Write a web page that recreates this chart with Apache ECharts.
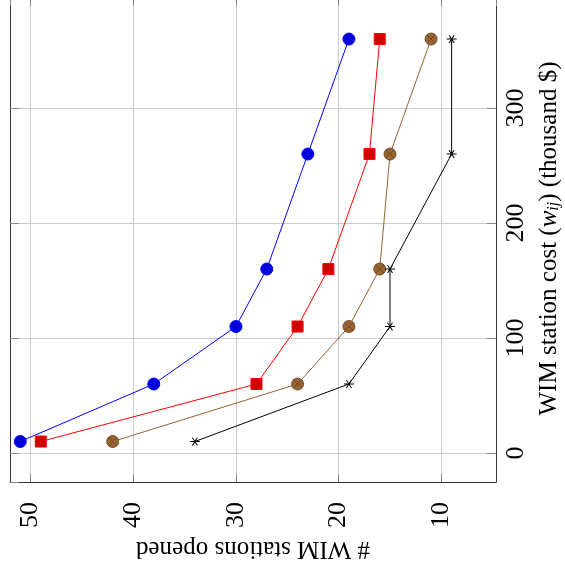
<!DOCTYPE html>
<html>
<head>
<meta charset="utf-8">
<script src="https://cdn.jsdelivr.net/npm/echarts@6/dist/echarts.min.js"></script>
<style>
  html, body { margin: 0; padding: 0; background: #fff; }
  #echart-box { width: 565px; height: 580px; }
</style>
</head>
<body>
<div id="echart-box"></div>
<script>
// station cost (thousand $) for each run
var costs = [10, 60, 110, 160, 260, 360];
// # WIM stations opened, one list per curve
var blueCounts = [51, 38, 30, 27, 23, 19];
var redCounts = [49, 28, 24, 21, 17, 16];
var brownCounts = [42, 24, 19, 16, 15, 11];
var blackCounts = [34, 19, 15, 15, 9, 9];

var serif = '"Liberation Serif", "DejaVu Serif", serif';

function pairs(counts) {
  var out = [];
  for (var i = 0; i < counts.length; i++) {
    out.push([counts[i], costs[i]]);
  }
  return out;
}

// otimes* and star marks, as in pgfplots
var otimesPath = 'path://M1,0A1,1,0,1,1,-1,0A1,1,0,1,1,1,0ZM-0.7,-0.7L0.7,0.7M-0.7,0.7L0.7,-0.7';
var starPath = 'path://M-1,0L1,0M-0.5,-0.866L0.5,0.866M-0.5,0.866L0.5,-0.866';

function init() {
  const element = document.getElementById("echart-box");
  const instance = echarts.init(element);

  var xMin = 4.68, xMax = 52.0;
  var yMin = -25.2, yMax = 398.3;

  var option = {
    animation: false,
    textStyle: { fontFamily: serif },
    grid: { left: 10, right: 69, top: -5, bottom: 98, containLabel: false, outerBoundsMode: 'none' },
    xAxis: [
      {
        type: 'value',
        position: 'bottom',
        inverse: true,
        min: xMin,
        max: xMax,
        splitNumber: 5,
        name: '# WIM stations opened',
        nameLocation: 'middle',
        nameRotate: 180,
        nameGap: 52,
        nameTextStyle: { fontFamily: serif, fontSize: 25, color: '#000' },
        axisLine: { onZero: false, lineStyle: { color: '#333', width: 1 } },
        axisTick: { inside: true, length: 8, lineStyle: { color: '#888' } },
        axisLabel: {
          rotate: 90, margin: 20, fontFamily: serif, fontSize: 26, color: '#000',
          showMinLabel: false, showMaxLabel: false
        },
        splitLine: { show: true, lineStyle: { color: '#cccccc', width: 1 } }
      },
      {
        type: 'value',
        position: 'top',
        inverse: true,
        min: xMin,
        max: xMax,
        splitNumber: 5,
        axisLine: { onZero: false, lineStyle: { color: '#333', width: 1 } },
        axisTick: { inside: true, length: 11, lineStyle: { color: '#888' } },
        axisLabel: { show: false },
        splitLine: { show: false }
      }
    ],
    yAxis: [
      {
        type: 'value',
        position: 'right',
        min: yMin,
        max: yMax,
        splitNumber: 4,
        name: 'WIM station cost ({w|w}{s|ij}) (thousand $)',
        nameLocation: 'middle',
        nameRotate: 90,
        nameGap: 34,
        nameTextStyle: {
          fontFamily: serif, fontSize: 25, color: '#000',
          rich: {
            w: { fontFamily: serif, fontSize: 25, fontStyle: 'italic', color: '#000' },
            s: { fontFamily: serif, fontSize: 16, fontStyle: 'italic', color: '#000', padding: [9, 0, 0, 0] }
          }
        },
        axisLine: { show: true, onZero: false, lineStyle: { color: '#333', width: 1 } },
        axisTick: { show: true, inside: true, length: 9, lineStyle: { color: '#888' } },
        axisLabel: {
          rotate: 90, margin: 7, fontFamily: serif, fontSize: 26, color: '#000',
          showMinLabel: false, showMaxLabel: false
        },
        splitLine: { show: true, lineStyle: { color: '#cccccc', width: 1 } }
      },
      {
        type: 'value',
        position: 'left',
        min: yMin,
        max: yMax,
        splitNumber: 4,
        axisLine: { show: true, onZero: false, lineStyle: { color: '#333', width: 1 } },
        axisTick: { show: true, inside: true, length: 9, lineStyle: { color: '#888' } },
        axisLabel: { show: false },
        splitLine: { show: false }
      }
    ],
    series: [
      {
        type: 'line',
        data: pairs(blueCounts),
        symbol: 'circle',
        symbolSize: 12,
        lineStyle: { color: '#0000ff', width: 1 },
        itemStyle: { color: '#0000d8', borderColor: '#0000ff', borderWidth: 1 }
      },
      {
        type: 'line',
        data: pairs(redCounts),
        symbol: 'rect',
        symbolSize: 11,
        lineStyle: { color: '#ff0000', width: 1 },
        itemStyle: { color: '#d00000', borderColor: '#ff0000', borderWidth: 1 }
      },
      {
        type: 'line',
        data: pairs(brownCounts),
        symbol: otimesPath,
        symbolKeepAspect: true,
        symbolSize: 12,
        lineStyle: { color: '#946234', width: 1 },
        itemStyle: { color: '#996633', borderColor: '#6b4522', borderWidth: 0.9 }
      },
      {
        type: 'line',
        data: pairs(blackCounts),
        symbol: starPath,
        symbolKeepAspect: true,
        symbolSize: [10, 9],
        lineStyle: { color: '#000000', width: 1 },
        itemStyle: { color: 'transparent', borderColor: '#000000', borderWidth: 1 }
      }
    ]
  };
  option && instance.setOption(option);

  window.onresize = function () {
    instance.resize();
  };
}

init();
</script>
</body>
</html>
